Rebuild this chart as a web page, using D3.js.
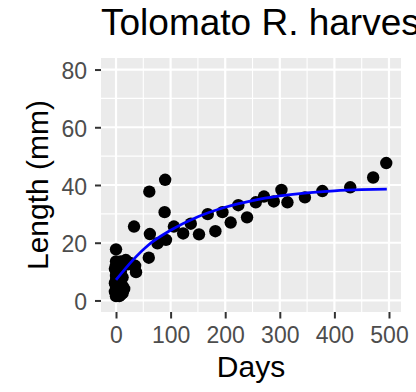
<!DOCTYPE html>
<html>
<head>
<meta charset="utf-8">
<script src="https://cdn.jsdelivr.net/npm/d3@7"></script>
<style>
  html, body { margin: 0; padding: 0; background: #fff; }
  svg { display: block; font-family: "Liberation Sans", Arial, Helvetica, sans-serif; }
</style>
</head>
<body>
<svg id="chart" width="416" height="392"></svg>
<script>
// ---- data ----
const title = "Tolomato R. harvest";
const xLabel = "Days";
const yLabel = "Length (mm)";
const xTicks = [0, 100, 200, 300, 400, 500];
const yTicks = [0, 20, 40, 60, 80];
const xMinor = [50, 150, 250, 350, 450];
const yMinor = [10, 30, 50, 70];

// observed points: days, length
const days = [
  0, 0, 0, 0, 0, 0, 0, 0, 0, 0,
  -2, -2, -2,
  3, 3, 3, 3,
  6, 6, 6, 6,
  9, 9, 9, 9,
  12, 12, 12, 12,
  14, 15, 18, 22, 26, 35, 36.6,
  33, 60, 61, 62, 76, 89, 90, 91.5,
  106, 123, 137, 152, 168, 182, 195, 210, 224, 240,
  256, 271, 289, 303, 314, 346, 378, 429, 471, 495
];
const lengths = [
  17.7, 13.5, 12, 10, 8.5, 7, 5.5, 4, 2.5, 1.5,
  11, 6, 3,
  13, 9, 5, 2,
  12, 7, 3.5, 1.5,
  13.5, 10, 4, 2,
  12.5, 8, 5, 2.5,
  13, 4, 14, 12.5, 13, 12, 9.8,
  25.6, 14.8, 37.7, 23.0, 19.8, 30.6, 41.8, 21.0,
  25.6, 23.2, 26.6, 22.9, 29.9, 24.0, 30.6, 27.0, 33.0, 28.8,
  34.0, 36.0, 34.3, 38.3, 34.0, 35.7, 37.9, 39.2, 42.6, 47.6
];

// fitted growth curve
const fitDays = [0, 30, 60, 100, 150, 200, 250, 300, 350, 400, 450, 496];
const fitLength = [7.1, 13.8, 19.3, 24.3, 29.0, 32.3, 34.6, 36.2, 37.3, 38.0, 38.4, 38.6];

// ---- layout ----
const svg = d3.select("#chart");
const P = { left: 101, right: 401, top: 58, bottom: 312 };

const x = d3.scaleLinear().domain([-27.5, 522]).range([P.left, P.right]);
const y = d3.scaleLinear().domain([-4, 84]).range([P.bottom, P.top]);

// panel
svg.append("rect")
  .attr("x", P.left).attr("y", P.top)
  .attr("width", P.right - P.left).attr("height", P.bottom - P.top)
  .attr("fill", "#EBEBEB");

const grid = svg.append("g");
// minor grid
grid.selectAll(".xm").data(xMinor).join("line")
  .attr("x1", d => x(d)).attr("x2", d => x(d))
  .attr("y1", P.top).attr("y2", P.bottom)
  .attr("stroke", "#fff").attr("stroke-width", 1.1);
grid.selectAll(".ym").data(yMinor).join("line")
  .attr("y1", d => y(d)).attr("y2", d => y(d))
  .attr("x1", P.left).attr("x2", P.right)
  .attr("stroke", "#fff").attr("stroke-width", 1.1);
// major grid
grid.selectAll(".xM").data(xTicks).join("line")
  .attr("x1", d => x(d)).attr("x2", d => x(d))
  .attr("y1", P.top).attr("y2", P.bottom)
  .attr("stroke", "#fff").attr("stroke-width", 2.2);
grid.selectAll(".yM").data(yTicks).join("line")
  .attr("y1", d => y(d)).attr("y2", d => y(d))
  .attr("x1", P.left).attr("x2", P.right)
  .attr("stroke", "#fff").attr("stroke-width", 2.2);

// axes
const xAxis = svg.append("g")
  .attr("transform", `translate(0,${P.bottom})`)
  .call(d3.axisBottom(x).tickValues(xTicks).tickSize(6.5).tickPadding(2));
xAxis.select(".domain").remove();
xAxis.selectAll(".tick line").attr("stroke", "#333").attr("stroke-width", 2);
xAxis.selectAll(".tick text")
  .attr("fill", "#4D4D4D").attr("font-size", 23)
  .attr("dy", null).attr("y", 31);

const yAxis = svg.append("g")
  .attr("transform", `translate(${P.left},0)`)
  .call(d3.axisLeft(y).tickValues(yTicks).tickSize(6).tickPadding(2));
yAxis.select(".domain").remove();
yAxis.selectAll(".tick line").attr("stroke", "#333").attr("stroke-width", 2);
yAxis.selectAll(".tick text")
  .attr("fill", "#4D4D4D").attr("font-size", 23)
  .attr("x", -14).attr("dy", null).attr("y", 9);

// points
const pts = days.map((d, i) => ({ d, L: lengths[i] }));
svg.append("g").selectAll("circle").data(pts).join("circle")
  .attr("cx", p => x(p.d)).attr("cy", p => y(p.L))
  .attr("r", 6.2).attr("fill", "#000");

// fitted line
const fit = fitDays.map((d, i) => ({ d, L: fitLength[i] }));
svg.append("path")
  .datum(fit)
  .attr("fill", "none").attr("stroke", "#0000FF").attr("stroke-width", 2.8)
  .attr("d", d3.line().x(p => x(p.d)).y(p => y(p.L)).curve(d3.curveMonotoneX));

// titles
svg.append("text")
  .attr("x", P.left).attr("y", 35)
  .attr("font-size", 37).attr("fill", "#000")
  .text(title);

svg.append("text")
  .attr("x", (P.left + P.right) / 2).attr("y", 377)
  .attr("text-anchor", "middle").attr("font-size", 30).attr("fill", "#000")
  .text(xLabel);

svg.append("text")
  .attr("transform", `translate(48,${(P.top + P.bottom) / 2}) rotate(-90)`)
  .attr("text-anchor", "middle").attr("font-size", 30).attr("fill", "#000")
  .text(yLabel);
</script>
</body>
</html>
